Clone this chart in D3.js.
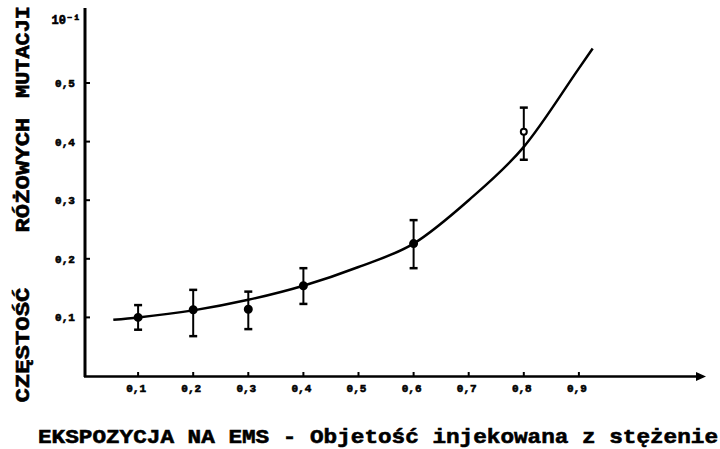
<!DOCTYPE html>
<html>
<head>
<meta charset="utf-8">
<script src="https://cdn.jsdelivr.net/npm/d3@7"></script>
<style>
  body { margin: 0; background: #fff; }
  svg text { font-family: "Liberation Mono", "DejaVu Sans Mono", monospace; font-weight: bold; fill: #000; stroke: #000; stroke-width: 0.6; }
</style>
</head>
<body>
<div class="chart"></div>
<script>
const W = 720, H = 449

// x ticks (dose) and labels
const xTicks = [0.1, 0.2, 0.3, 0.4, 0.5, 0.6, 0.7, 0.8, 0.9]
const xTickLabels = ["0,1", "0,2", "0,3", "0,4", "0,5", "0,6", "0,7", "0,8", "0,9"]
// y ticks (frequency) and labels
const yTicks = [0.1, 0.2, 0.3, 0.4, 0.5]
const yTickLabels = ["0,1", "0,2", "0,3", "0,4", "0,5"]
const yUnitLabel = "10⁻¹"

// measured points with error bars
const pointX = [0.1, 0.2, 0.3, 0.4, 0.6, 0.8]
const pointY = [0.100, 0.113, 0.114, 0.154, 0.226, 0.417]
const errLow = [0.079, 0.068, 0.080, 0.123, 0.184, 0.369]
const errHigh = [0.121, 0.147, 0.144, 0.184, 0.266, 0.458]

// fitted curve
const curveX = [0.055, 0.1, 0.2, 0.3, 0.4, 0.5, 0.6, 0.7, 0.8, 0.9, 0.925]
const curveY = [0.096, 0.100, 0.112, 0.130, 0.154, 0.186, 0.226, 0.300, 0.391, 0.525, 0.559]

const titleParts = ["CZĘSTOŚĆ", "RÓŻOWYCH", "MUTACJI"]
const xTitle = "EKSPOZYCJA NA EMS - Objetość injekowana z stężenie"

const svg = d3.select(".chart").append("svg")
    .attr("width", W)
    .attr("height", H)

const x = d3.scaleLinear().domain([0, 1]).range([83, 634])
const y = d3.scaleLinear().domain([0, 0.6]).range([376, 24.4])

// axes
svg.append("line")
    .attr("x1", 85).attr("x2", 85)
    .attr("y1", 8).attr("y2", 377)
    .attr("stroke", "#000").attr("stroke-width", 3)

svg.append("line")
    .attr("x1", 84).attr("x2", 702)
    .attr("y1", 376.5).attr("y2", 376.5)
    .attr("stroke", "#000").attr("stroke-width", 2.5)

svg.append("path")
    .attr("d", "M696,372 L706,376.5 L696,381 Z")
    .attr("fill", "#000")

// x ticks
svg.append("g").selectAll("line")
    .data(xTicks)
    .enter()
    .append("line")
    .attr("x1", d => x(d)).attr("x2", d => x(d))
    .attr("y1", 372).attr("y2", 377)
    .attr("stroke", "#000").attr("stroke-width", 2)

svg.append("g").selectAll("text")
    .data(xTicks)
    .enter()
    .append("text")
    .attr("x", d => x(d) - 2)
    .attr("y", 392)
    .attr("text-anchor", "middle")
    .attr("font-size", 11)
    .text((d, i) => xTickLabels[i])

// y ticks
svg.append("g").selectAll("line")
    .data(yTicks)
    .enter()
    .append("line")
    .attr("x1", 85).attr("x2", 90)
    .attr("y1", d => y(d)).attr("y2", d => y(d))
    .attr("stroke", "#000").attr("stroke-width", 2)

svg.append("g").selectAll("text")
    .data(yTicks)
    .enter()
    .append("text")
    .attr("x", 65)
    .attr("y", d => y(d) + 4)
    .attr("text-anchor", "middle")
    .attr("font-size", 11)
    .text((d, i) => yTickLabels[i])

svg.append("text")
    .attr("x", 66)
    .attr("y", y(0.61) + 5)
    .attr("text-anchor", "middle")
    .attr("font-size", 12)
    .text(yUnitLabel)

// fitted curve
const line = d3.line()
    .x(d => x(d[0]))
    .y(d => y(d[1]))
    .curve(d3.curveMonotoneX)

svg.append("path")
    .datum(curveX.map((d, i) => [d, curveY[i]]))
    .attr("d", line)
    .attr("fill", "none")
    .attr("stroke", "#000")
    .attr("stroke-width", 2.5)

// error bars
const bars = svg.append("g")
pointX.forEach((d, i) => {
    const cx = x(d)
    bars.append("line")
        .attr("x1", cx).attr("x2", cx)
        .attr("y1", y(errLow[i])).attr("y2", y(errHigh[i]))
        .attr("stroke", "#000").attr("stroke-width", 2)
    ;[errLow[i], errHigh[i]].forEach(v => {
        bars.append("line")
            .attr("x1", cx - 4).attr("x2", cx + 4)
            .attr("y1", y(v)).attr("y2", y(v))
            .attr("stroke", "#000").attr("stroke-width", 2.5)
    })
    bars.append("circle")
        .attr("cx", cx)
        .attr("cy", y(pointY[i]))
        .attr("r", i == pointX.length - 1 ? 3 : 3.5)
        .attr("fill", i == pointX.length - 1 ? "#fff" : "#000")
        .attr("stroke", "#000")
        .attr("stroke-width", 2)
})

// left title, three separate words
const titleCenters = [345, 175, 52]
titleParts.forEach((t, i) => {
    svg.append("text")
        .attr("transform", `translate(29,${titleCenters[i]}) rotate(-90)`)
        .attr("text-anchor", "middle")
        .attr("font-size", 21)
        .attr("textLength", i == 2 ? 92 : 115)
        .attr("lengthAdjust", "spacingAndGlyphs")
        .text(t)
})

// x title
svg.append("text")
    .attr("x", 38)
    .attr("y", 443)
    .attr("font-size", 21)
    .attr("textLength", 680)
    .attr("lengthAdjust", "spacingAndGlyphs")
    .text(xTitle)
</script>
</body>
</html>
